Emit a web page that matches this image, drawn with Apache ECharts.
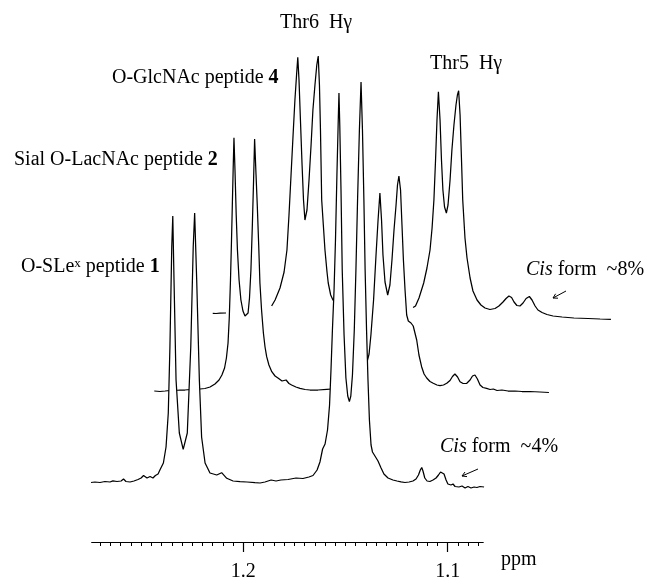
<!DOCTYPE html>
<html><head><meta charset="utf-8">
<script src="https://cdn.jsdelivr.net/npm/echarts@6/dist/echarts.min.js"></script>
<style>html,body{margin:0;padding:0;background:#fff}#c{width:645px;height:582px}</style>
</head><body><div id="c"></div>
<script>
// ---- data: [chemical shift (ppm), intensity above own baseline] ----
const peptide1 = [
[1.2745,-0.5],[1.2726,0],[1.2701,-0.5],[1.2677,0.5],[1.2652,0],[1.2638,1.2],[1.2618,0.5],[1.2598,1],[1.2586,3],[1.2574,0.5],
[1.2554,0],[1.2535,1],[1.2515,2.5],[1.2500,4],[1.2488,6.5],[1.2471,4],[1.2456,5.5],[1.2442,4],[1.2430,6.5],[1.2417,8],
[1.2408,12],[1.2391,19],[1.2378,35],[1.2367,69],[1.2359,135],[1.2350,235],[1.2345,266],[1.2339,202],[1.2329,102],[1.2313,49],
[1.2294,32.7],[1.2274,49],[1.2257,135],[1.2245,235],[1.2238,269],[1.2228,202],[1.2215,102],[1.2204,45],[1.2187,19],[1.2163,9],
[1.2130,7],[1.2106,9.3],[1.2081,3.7],[1.2050,1],[1.2016,0.3],[1.1982,0],[1.1943,-0.7],[1.1918,-1],[1.1894,0],[1.1864,2],
[1.1840,1],[1.1816,2],[1.1781,2.5],[1.1742,4],[1.1708,3.5],[1.1679,5],[1.1659,6.5],[1.1639,12],[1.1625,20],[1.1612,33],
[1.1600,38],[1.1588,52],[1.1578,77],[1.1571,112],[1.1564,152],[1.1556,192],[1.1549,242],[1.1542,307],[1.1536,357],[1.1532,389],
[1.1528,357],[1.1522,292],[1.1516,212],[1.1507,147],[1.1498,104],[1.1489,86],[1.1481,80.3],[1.1474,86],[1.1466,107],[1.1457,152],
[1.1449,212],[1.1441,282],[1.1432,352],[1.1424,400],[1.1417,352],[1.1410,282],[1.1404,212],[1.1397,152],[1.1390,102],[1.1383,62],
[1.1375,37],[1.1368,30],[1.1356,26],[1.1341,21],[1.1326,14],[1.1312,8],[1.1292,4],[1.1268,2],[1.1248,1],[1.1228,0.2],
[1.1209,-0.5],[1.1189,0],[1.1170,1],[1.1155,3],[1.1143,7],[1.1134,12],[1.1127,14.5],[1.1121,11],[1.1112,4],[1.1101,1],
[1.1087,0.5],[1.1072,2],[1.1057,4],[1.1045,7],[1.1035,10],[1.1026,11.5],[1.1018,8],[1.1008,2],[1.0999,-2],[1.0984,-3],
[1.0974,-2],[1.0964,-4.5],[1.0955,-3],[1.0945,-5],[1.0930,-4],[1.0915,-6],[1.0901,-4.5],[1.0886,-6],[1.0871,-5],[1.0857,-5.5],
[1.0842,-4.5],[1.0822,-5]
];
const peptide2 = [
[1.2739,0],[1.2711,-0.5],[1.2686,0],[1.2662,0.5],[1.2638,0.5],[1.2613,1],[1.2589,1],[1.2564,1.5],[1.2540,1.5],[1.2515,2],
[1.2491,2.5],[1.2466,4],[1.2442,7],[1.2422,11],[1.2408,16],[1.2395,23],[1.2386,33],[1.2378,48],[1.2372,73],[1.2366,111],
[1.2361,151],[1.2357,186],[1.2353,221],[1.2349,253.3],[1.2344,221],[1.2338,176],[1.2332,141],[1.2324,111],[1.2315,91],[1.2305,80],
[1.2295,75],[1.2287,73.7],[1.2280,78],[1.2273,93],[1.2266,121],[1.2259,166],[1.2253,211],[1.2248,252],[1.2241,216],[1.2235,186],
[1.2228,146],[1.2222,108],[1.2214,81],[1.2205,58],[1.2197,44],[1.2189,34.3],[1.2178,26],[1.2164,19.3],[1.2148,15],[1.2132,12.7],
[1.2114,10],[1.2094,11],[1.2080,7.5],[1.2067,6],[1.2046,4],[1.2026,2.7],[1.2001,1.5],[1.1977,1],[1.1938,1],[1.1895,1.7],
[1.1869,2],[1.1800,'-'],
[1.1713,16],[1.1698,29],[1.1688,37],[1.1679,56],[1.1666,91],[1.1654,136],[1.1644,171],[1.1635,198],[1.1627,171],[1.1620,136],
[1.1610,109],[1.1597,96],[1.1586,106],[1.1576,131],[1.1566,161],[1.1556,186],[1.1549,206],[1.1542,215],[1.1534,201],[1.1527,166],
[1.1520,131],[1.1512,101],[1.1504,76],[1.1496,70],[1.1483,68],[1.1472,65],[1.1455,51],[1.1444,36],[1.1431,24.3],[1.1419,17],
[1.1406,13],[1.1390,9.5],[1.1374,7.7],[1.1356,6],[1.1341,5.3],[1.1324,6],[1.1308,7.7],[1.1292,10.5],[1.1280,14.5],[1.1268,17],
[1.1255,14],[1.1243,9.3],[1.1228,7.5],[1.1210,7.7],[1.1194,11],[1.1182,15],[1.1170,16],[1.1158,12],[1.1145,6],[1.1131,3.5],
[1.1113,2.7],[1.1096,1.5],[1.1080,2],[1.1062,0.5],[1.1038,1],[1.1008,0],[1.0974,0],[1.0940,-0.5],[1.0901,-0.5],[1.0852,-1],
[1.0808,-1.5]
];
const peptide4 = [
[1.2761,-0.3],[1.2745,-0.5],[1.2726,-0.2],[1.2696,0],[1.2600,'-'],
[1.2473,7],[1.2456,13],[1.2432,25],[1.2412,41],[1.2398,63],[1.2388,98],[1.2378,138],[1.2368,178],[1.2359,213],[1.2351,238],
[1.2345,255.7],[1.2339,233],[1.2332,193],[1.2324,148],[1.2317,113],[1.2310,93],[1.2300,103],[1.2290,133],[1.2280,168],[1.2271,203],
[1.2261,228],[1.2252,248],[1.2245,257],[1.2239,228],[1.2234,183],[1.2228,113],[1.2220,88],[1.2212,63],[1.2202,41],[1.2196,30],
[1.2184,18],[1.2173,13],[1.2148,9],[1.2000,'-'],
[1.1781,5.5],[1.1769,7],[1.1752,15],[1.1729,30],[1.1713,45],[1.1698,63],[1.1688,85],[1.1679,113],[1.1671,153],[1.1664,193],
[1.1657,221.3],[1.1649,193],[1.1642,153],[1.1635,123],[1.1627,106],[1.1618,100],[1.1610,108],[1.1600,133],[1.1591,163],[1.1581,188],
[1.1571,208],[1.1564,218],[1.1558,222.3],[1.1551,198],[1.1544,153],[1.1538,113],[1.1527,75],[1.1517,55],[1.1502,35],[1.1488,22],
[1.1468,13],[1.1449,8],[1.1429,5],[1.1405,3.5],[1.1380,4.5],[1.1361,7],[1.1341,11],[1.1326,14.5],[1.1312,17],[1.1299,15.5],
[1.1287,11],[1.1273,7.5],[1.1258,7],[1.1243,10],[1.1228,14.5],[1.1212,16.5],[1.1199,13],[1.1184,7],[1.1170,3],[1.1150,0.5],
[1.1126,-1.5],[1.1096,-3],[1.1052,-4],[1.0994,-5],[1.0925,-5.5],[1.0866,-6],[1.0813,-6.3]
];
const axisRange = [1.0826, 1.2742];        // visible ppm scale
const majorTickLabels = [1.2, 1.1];
const minorTicks = [];
for (let k = 217; k <= 254; k++) minorTicks.push(+(k * 0.005).toFixed(3));

// ---- layout ----
const PXPPM = 2044;                 // pixels per ppm
const X12 = 243.3;                  // pixel of 1.2 ppm on the front trace
const traceRange = [1.08, 1.28];
const traceW = (traceRange[1] - traceRange[0]) * PXPPM;
function traceLeft(dx) { return X12 + dx - (traceRange[1] - 1.2) * PXPPM; }
const F = 'Liberation Serif, "DejaVu Serif", serif';
const FS = 20;

const grids = [
  { left: X12 - (axisRange[1] - 1.2) * PXPPM, width: (axisRange[1] - axisRange[0]) * PXPPM, top: 500, height: 45.7 },
  { left: traceLeft(0),   width: traceW, top: 62, height: 450 },
  { left: traceLeft(62),  width: traceW, top: 91, height: 330 },
  { left: traceLeft(125), width: traceW, top: 13, height: 330 }
];

const hiddenX = (gi) => ({ gridIndex: gi, type: 'value', inverse: true, min: traceRange[0], max: traceRange[1], show: false });

const option = {
  animation: false,
  backgroundColor: '#fff',
  grid: grids,
  xAxis: [
    { gridIndex: 0, type: 'value', inverse: true, position: 'bottom', min: axisRange[0], max: axisRange[1],
      axisLine: { show: true, lineStyle: { color: '#000', width: 1 } },
      axisTick: { show: true, customValues: minorTicks, length: 4, lineStyle: { color: '#000', width: 1 } },
      axisLabel: { show: false }, splitLine: { show: false } },
    { gridIndex: 0, type: 'value', inverse: true, position: 'bottom', offset: 0, min: axisRange[0], max: axisRange[1],
      axisLine: { show: false },
      axisTick: { show: true, customValues: majorTickLabels, length: 10, lineStyle: { color: '#000', width: 1.2 } },
      axisLabel: { show: true, customValues: majorTickLabels, margin: 20, color: '#000', fontFamily: F, fontSize: FS,
                   formatter: v => v.toFixed(1) },
      splitLine: { show: false } },
    hiddenX(1), hiddenX(2), hiddenX(3)
  ],
  yAxis: [
    { gridIndex: 0, type: 'value', min: 0, max: 1, show: false },
    { gridIndex: 1, type: 'value', min: -30, max: 420, show: false },
    { gridIndex: 2, type: 'value', min: -30, max: 300, show: false },
    { gridIndex: 3, type: 'value', min: -30, max: 300, show: false }
  ],
  series: [
    { name: 'O-GlcNAc peptide 4', type: 'line', xAxisIndex: 4, yAxisIndex: 3, data: peptide4, z: 2,
      showSymbol: false, connectNulls: false, silent: true, lineStyle: { color: '#000', width: 1.25 } },
    { name: 'Sial O-LacNAc peptide 2', type: 'line', xAxisIndex: 3, yAxisIndex: 2, data: peptide2, z: 3,
      showSymbol: false, connectNulls: false, silent: true, lineStyle: { color: '#000', width: 1.25 },
      areaStyle: { color: '#fff', opacity: 1, origin: 'start' } },
    { name: 'O-SLex peptide 1', type: 'line', xAxisIndex: 2, yAxisIndex: 1, data: peptide1, z: 4,
      showSymbol: false, connectNulls: false, silent: true, lineStyle: { color: '#000', width: 1.25 },
      areaStyle: { color: '#fff', opacity: 1, origin: 'start' } }
  ],
  graphic: []
};

function txt(x, y, text, rich) {
  const st = { text: text, font: FS + 'px ' + F, fontFamily: F, fontSize: FS, fill: '#000',
               align: 'left', textAlign: 'left', verticalAlign: 'middle', textVerticalAlign: 'middle' };
  if (rich) st.rich = rich;
  return { type: 'text', x: x, y: y, z: 100, style: st, silent: true };
}
const R = {
  n: { fontFamily: F, fontSize: FS, fill: '#000' },
  b: { fontFamily: F, fontSize: FS, fontWeight: 'bold', fill: '#000' },
  i: { fontFamily: F, fontSize: FS, fontStyle: 'italic', fill: '#000' },
  s: { fontFamily: F, fontSize: 13, fill: '#000', verticalAlign: 'top' }
};
option.graphic = [
  txt(280, 23, 'Thr6  H\u03b3'),
  txt(430, 64, 'Thr5  H\u03b3'),
  txt(112, 78, '{n|O-GlcNAc peptide }{b|4}', R),
  txt(14, 160, '{n|Sial O-LacNAc peptide }{b|2}', R),
  txt(21, 267, '{n|O-SLe}{s|x}{n| peptide }{b|1}', R),
  txt(526, 270, '{i|Cis}{n| form  ~8%}', R),
  txt(440, 447, '{i|Cis}{n| form  ~4%}', R),
  txt(501, 560, 'ppm'),
  { type: 'line', z: 100, silent: true, shape: { x1: 566, y1: 291, x2: 553, y2: 298 }, style: { stroke: '#000', lineWidth: 1 } },
  { type: 'polyline', z: 100, silent: true, shape: { points: [[558, 298.2], [553, 298], [555.6, 293.8]] }, style: { stroke: '#000', lineWidth: 1, fill: null } },
  { type: 'line', z: 100, silent: true, shape: { x1: 478, y1: 469, x2: 462, y2: 476 }, style: { stroke: '#000', lineWidth: 1 } },
  { type: 'polyline', z: 100, silent: true, shape: { points: [[467, 476.6], [462, 476], [465, 472]] }, style: { stroke: '#000', lineWidth: 1, fill: null } }
];

const chart = echarts.init(document.getElementById('c'), null, { renderer: 'canvas', width: 645, height: 582 });
chart.setOption(option);
</script>
</body></html>
